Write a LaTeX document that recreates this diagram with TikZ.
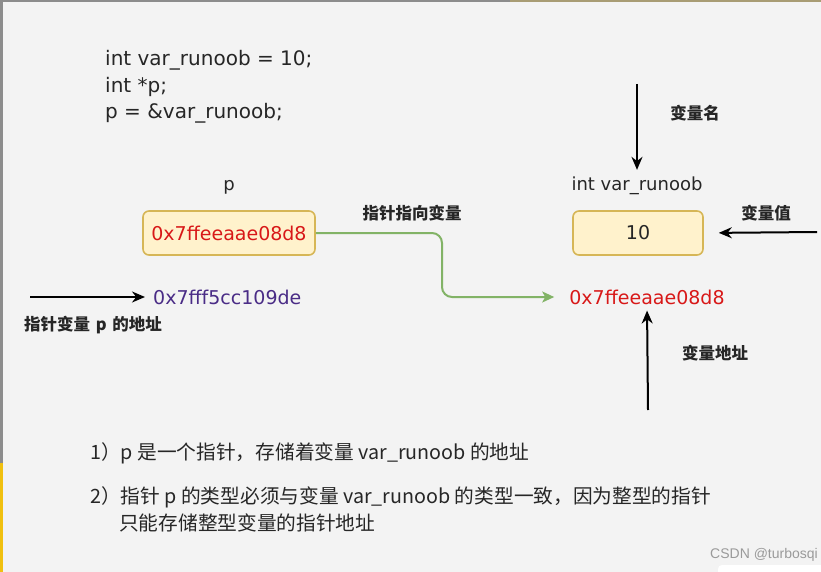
\documentclass[tikz,border=0pt]{standalone}
\usepackage{fontspec}
\setmainfont{DejaVu Sans}
\newfontfamily\cjk{Noto Sans CJK SC}
\newfontfamily\wmfont{Liberation Sans}
\usetikzlibrary{arrows.meta}
\definecolor{bg}{HTML}{F3F3F3}
\definecolor{lborder}{HTML}{8C8C8C}
\definecolor{tborder}{HTML}{A89C74}
\definecolor{ystrip}{HTML}{F0C010}
\definecolor{boxfill}{HTML}{FFF2CC}
\definecolor{boxdraw}{HTML}{D6B656}
\definecolor{addrred}{HTML}{D81818}
\definecolor{addrpurple}{HTML}{4A2C86}
\definecolor{linkgreen}{HTML}{82B366}
\definecolor{wmgray}{HTML}{9A9A9A}
\tikzset{
  codetext/.style={font=\fontsize{20}{24}\selectfont, inner sep=0pt, anchor=west, text=black!85},
  lbltext/.style={font=\fontsize{18}{22}\selectfont, inner sep=2pt, text=black!85},
  hextext/.style={font=\fontsize{19}{23}\selectfont, inner sep=0pt},
  cjklabel/.style={font=\cjk\bfseries\fontsize{16.5}{20}\selectfont, inner sep=0pt, text=black!85},
  notetext/.style={font=\cjk\fontsize{19.7}{23}\selectfont, inner sep=0pt, anchor=west, text=black!85},
  membox/.style={draw=boxdraw, fill=boxfill, line width=1.6pt, rounded corners=6pt, minimum height=44pt},
  blackarrow/.style={draw=black, line width=2pt, -{Stealth[length=13pt,width=11pt]}},
  greenarrow/.style={draw=linkgreen, line width=2pt, rounded corners=10pt, -{Stealth[length=12pt,width=11pt,inset=3pt]}}
}
\begin{document}
\begin{tikzpicture}[x=1pt,y=-1pt]
\fill[bg] (0,0) rectangle (821,572);
\useasboundingbox (0,0) rectangle (821,572);
% screenshot borders
\fill[lborder] (0,0) rectangle (3,463);
\fill[ystrip] (0,463) rectangle (3,572);
\fill[lborder] (0,0) rectangle (510,1.6);
\fill[tborder] (510,0) rectangle (821,2);
\fill[white, rounded corners=4pt] (718,565) rectangle (826,578);

% code
\node[codetext] (c1) at (105,60) {int var\_runoob = 10;};
\node[codetext] (c2) at (105,87) {int *p;};
\node[codetext] (c3) at (105,113) {p = \&var\_runoob;};

% pointer p
\node[lbltext] (plabel) at (229,187) {p};
\node[membox, minimum width=172pt] (pbox) at (229,233) {};
\node[hextext, text=addrred] (pval) at (pbox.center) {0x7ffeeaae08d8};
\node[hextext, text=addrpurple, anchor=west] (paddr) at (153,297) {0x7fff5cc109de};
\coordinate (pstart) at (30,297);
\draw[blackarrow, shorten >=8pt] (pstart) -- (paddr.west);
\node[cjklabel] (pnote) at (93,325) {指针变量\hspace{0.35em}p\hspace{0.35em}的地址};

% variable var_runoob
\node[lbltext] (vname) at (637,186) {int var\_runoob};
\node[membox, minimum width=130pt] (vbox) at (638,233) {};
\node[font=\fontsize{19}{23}\selectfont, inner sep=0pt, text=black!85] (vval) at (vbox.center) {10};
\node[hextext, text=addrred] (vaddr) at (647,297) {0x7ffeeaae08d8};

\coordinate (ntop) at (637,84);
\draw[blackarrow, shorten >=5pt] (ntop) -- (vname.north);
\node[cjklabel] (nlbl) at (695,113) {变量名};

\coordinate (vright) at (817,232);
\draw[blackarrow, shorten >=15pt] (vright) -- (vbox.east);
\node[cjklabel] (vlbl) at (766,213) {变量值};

\coordinate (abottom) at (648,410);
\draw[blackarrow, shorten >=6pt] (abottom) -- (vaddr.south);
\node[cjklabel] (albl) at (715,353) {变量地址};

% pointer link
\coordinate (bend) at (442,233);
\draw[greenarrow, shorten >=15pt] (pbox.east) -- (bend) |- (vaddr.west);
\node[cjklabel] (linklbl) at (412,213) {指针指向变量};

% notes
\node[notetext] (n1) at (90,453) {1）p 是一个指针，存储着变量 var\_runoob 的地址};
\node[notetext] (n2) at (90,497) {2）指针 p 的类型必须与变量 var\_runoob 的类型一致，因为整型的指针};
\node[notetext] (n3) at (119,523) {只能存储整型变量的指针地址};

% watermark
\node[font=\wmfont\fontsize{14}{16}\selectfont, text=wmgray, inner sep=0pt, anchor=east] (wm) at (818,555) {CSDN @turbosqi};
\end{tikzpicture}
\end{document}
